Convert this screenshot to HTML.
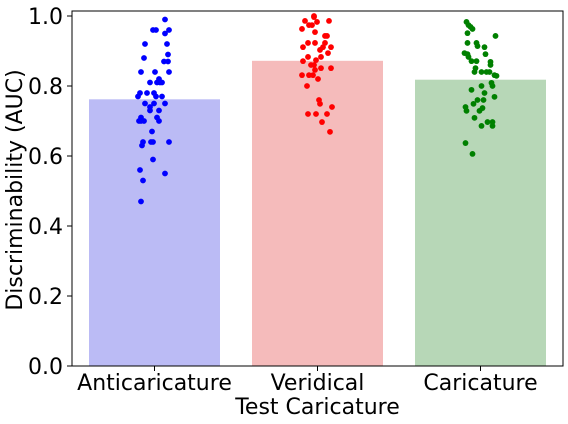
<!DOCTYPE html>
<html><head><meta charset="utf-8"><style>
body{margin:0;background:#fff}
svg{display:block;font-family:"DejaVu Sans",sans-serif}
</style></head><body>
<svg id="c" width="568" height="424"></svg>
<script>
const categories=["Anticaricature","Veridical","Caricature"];
const barValues=[0.762,0.872,0.818];
const barColors=["#bbbbf5","#f5bbbb","#b7d7b7"];
const dotColors=["#0000ff","#ff0000","#008000"];
const yTicks=[0,0.2,0.4,0.6,0.8,1.0];
const yTickLabels=["0.0","0.2","0.4","0.6","0.8","1.0"];
// [value, jitter]
const antiPoints=[[0.99,10.5],[0.96,-1.5],[0.96,1.5],[0.96,14.5],[0.95,10.5],[0.92,-9.5],[0.92,12.5],[0.89,13.5],[0.88,-10.5],[0.87,9.5],[0.87,13.5],[0.84,-13.5],[0.84,0.5],[0.84,14.5],[0.82,4.5],[0.81,-4.5],[0.81,2.5],[0.81,7.5],[0.81,5.5],[0.78,-14.5],[0.78,-7.5],[0.78,-0.5],[0.77,-16.5],[0.77,1.5],[0.77,7.5],[0.75,-9.5],[0.75,-0.5],[0.75,10.5],[0.74,-4.5],[0.73,-4.5],[0.73,4.5],[0.71,-13.5],[0.71,2.5],[0.70,-13.5],[0.70,-15.5],[0.70,-10.5],[0.70,4.5],[0.67,-2.5],[0.64,-11.5],[0.64,-3.5],[0.64,-1.5],[0.64,14.5],[0.63,-12.5],[0.59,-1.5],[0.56,-14.5],[0.55,10.5],[0.53,-11.5],[0.47,-13.5]];
const veridPoints=[[1.0,-3.5],[0.997,-3.5],[0.986,-12.5],[0.983,-0.5],[0.986,11.5],[0.974,-8.5],[0.974,-5.5],[0.963,-15.5],[0.954,-2.5],[0.943,7.5],[0.943,9.5],[0.923,-9.5],[0.923,-2.5],[0.923,7.5],[0.911,-14.5],[0.911,5.5],[0.911,13.5],[0.903,2.5],[0.894,10.5],[0.883,-9.5],[0.883,3.5],[0.874,-1.5],[0.871,-14.5],[0.86,-6.5],[0.86,-3.5],[0.851,3.5],[0.851,13.5],[0.846,-2.5],[0.831,-15.5],[0.831,-8.5],[0.831,-4.5],[0.82,0.5],[0.80,-10.5],[0.76,1.5],[0.749,2.5],[0.74,14.5],[0.72,-9.5],[0.72,-1.5],[0.72,9.5],[0.697,4.5],[0.669,12.5]];
const cariPoints=[[0.983,-14],[0.974,-12],[0.969,-10],[0.963,-8],[0.951,-13],[0.943,15],[0.923,-13],[0.923,-4],[0.914,-3],[0.911,4],[0.894,-16],[0.891,-13],[0.883,-12],[0.891,5],[0.871,-9],[0.871,-4],[0.869,10],[0.86,10],[0.851,-5],[0.84,-6],[0.84,1],[0.84,6],[0.84,9],[0.831,14],[0.829,16],[0.809,11],[0.80,12],[0.80,1],[0.789,-9],[0.78,4],[0.769,14],[0.76,-3],[0.76,3],[0.749,-7],[0.74,-15],[0.737,2],[0.729,-14],[0.729,-1],[0.709,-6],[0.697,7],[0.697,12],[0.686,12],[0.686,1],[0.637,-15],[0.606,-8]];
const points=[antiPoints,veridPoints,cariPoints];

const NS="http://www.w3.org/2000/svg",svg=document.getElementById('c');
const L=72,R=563,T=11,B=366;
const y=v=>B-v*350;
const x=i=>154.5+i*163;
function el(t,a,p){const e=document.createElementNS(NS,t);for(const k in a)e.setAttribute(k,a[k]);(p||svg).appendChild(e);return e;}
categories.forEach((c,i)=>{
  const b=el('rect',{x:x(i)-65.5,y:y(barValues[i]),width:131,height:y(0)-y(barValues[i]),fill:barColors[i]});
  
  
});
points.forEach((ps,i)=>ps.forEach(p=>{
  const d=el('circle',{cx:x(i)+p[1],cy:y(p[0]),r:2.9,fill:dotColors[i]});
  
  
}));
const f=el('rect',{x:L,y:T,width:R-L,height:B-T,fill:'none',stroke:'#000','stroke-width':1});


yTicks.forEach((v,i)=>{
  el('line',{x1:L-5,x2:L,y1:y(v),y2:y(v),stroke:'#000'});
  const t=el('text',{x:L-9,y:y(v)+8,'text-anchor':'end','font-size':22});
  t.textContent=yTickLabels[i];
  
  
});
categories.forEach((c,i)=>{
  el('line',{x1:x(i),x2:x(i),y1:B,y2:B+5,stroke:'#000'});
  const t=el('text',{x:x(i),y:390,'text-anchor':'middle','font-size':22});
  t.textContent=c;
  
  
});
const xt=el('text',{x:317.5,y:414,'text-anchor':'middle','font-size':22});
xt.textContent='Test Caricature';


const yt=el('text',{x:0,y:0,'text-anchor':'middle','font-size':22,transform:'translate(22,190) rotate(-90)'});
yt.textContent='Discriminability (AUC)';


</script>
</body></html>
